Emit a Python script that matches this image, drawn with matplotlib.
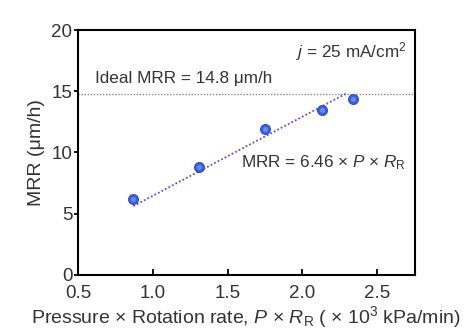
import numpy as np
import matplotlib
matplotlib.use("Agg")
import matplotlib.pyplot as plt

plt.rcParams['font.family'] = ['Liberation Sans', 'DejaVu Sans']
plt.rcParams['mathtext.fontset'] = 'custom'
plt.rcParams['mathtext.rm'] = 'Liberation Sans'
plt.rcParams['mathtext.it'] = 'Liberation Sans:italic'

# Measured removal rate vs. pressure x rotation rate
p_rr = [0.87, 1.31, 1.75, 2.13, 2.34]
mrr = [6.2, 8.8, 11.9, 13.5, 14.4]

fit_slope = 6.46
ideal_mrr = 14.8

x_ticks = [0.5, 1.0, 1.5, 2.0, 2.5]
y_ticks = [0, 5, 10, 15, 20]

text_color = '#333333'

fig = plt.figure(figsize=(4.7, 3.3), dpi=100)
ax = fig.add_axes([0.166, 0.167, 0.716, 0.742])

# ideal removal-rate reference
ax.axhline(ideal_mrr, color='#888888', lw=1.0, ls=(0, (1, 1.2)), zorder=1)

# proportional fit, drawn up to where it reaches the ideal rate
x_fit = np.array([p_rr[0], ideal_mrr / fit_slope])
ax.plot(x_fit, fit_slope * x_fit, color='#5a4fd0', lw=1.3,
        ls=(0, (1, 1.2)), zorder=2)

ax.scatter(p_rr, mrr, s=50, color='#3d63dc', edgecolor='#2a4bc4',
           linewidth=0.8, zorder=3)
# soft highlight on each marker
ax.scatter(p_rr, mrr, s=12, color='#7f9cf0', linewidth=0, zorder=4,
           alpha=0.7)

ax.set_xlim(0.5, 2.75)
ax.set_ylim(0, 20)
ax.set_xticks(x_ticks)
ax.set_xticklabels([f'{v:.1f}' for v in x_ticks])
ax.set_yticks(y_ticks)
ax.tick_params(axis='x', direction='in', length=4, width=1.3,
               labelsize=13.5, colors='black', labelcolor=text_color, pad=7)
ax.tick_params(axis='y', direction='out', length=3, width=1.3,
               labelsize=13.5, colors='black', labelcolor=text_color, pad=1)
for s in ax.spines.values():
    s.set_linewidth(1.5)

ax.set_xlabel(r'Pressure $\times$ Rotation rate, $P$ $\times$ $R_{\mathrm{R}}$ ( $\times$ 10$^3$ kPa/min)',
              fontsize=14, color=text_color, labelpad=2)
ax.set_ylabel('MRR (μm/h)', fontsize=14, color=text_color, labelpad=5)

ax.text(0.05, ideal_mrr + 0.6, f'Ideal MRR = {ideal_mrr} μm/h',
        transform=ax.get_yaxis_transform(), fontsize=12.3, color=text_color,
        va='bottom', ha='left')
ax.text(0.975, 0.96, r'$j$ = 25 mA/cm$^2$', transform=ax.transAxes,
        fontsize=12.3, color=text_color, ha='right', va='top')
ax.text(0.975, 0.46, rf'MRR = {fit_slope} $\times$ $P$ $\times$ $R_{{\mathrm{{R}}}}$',
        transform=ax.transAxes, fontsize=12.3, color=text_color,
        ha='right', va='center')

fig.savefig('out.png', dpi=100)
